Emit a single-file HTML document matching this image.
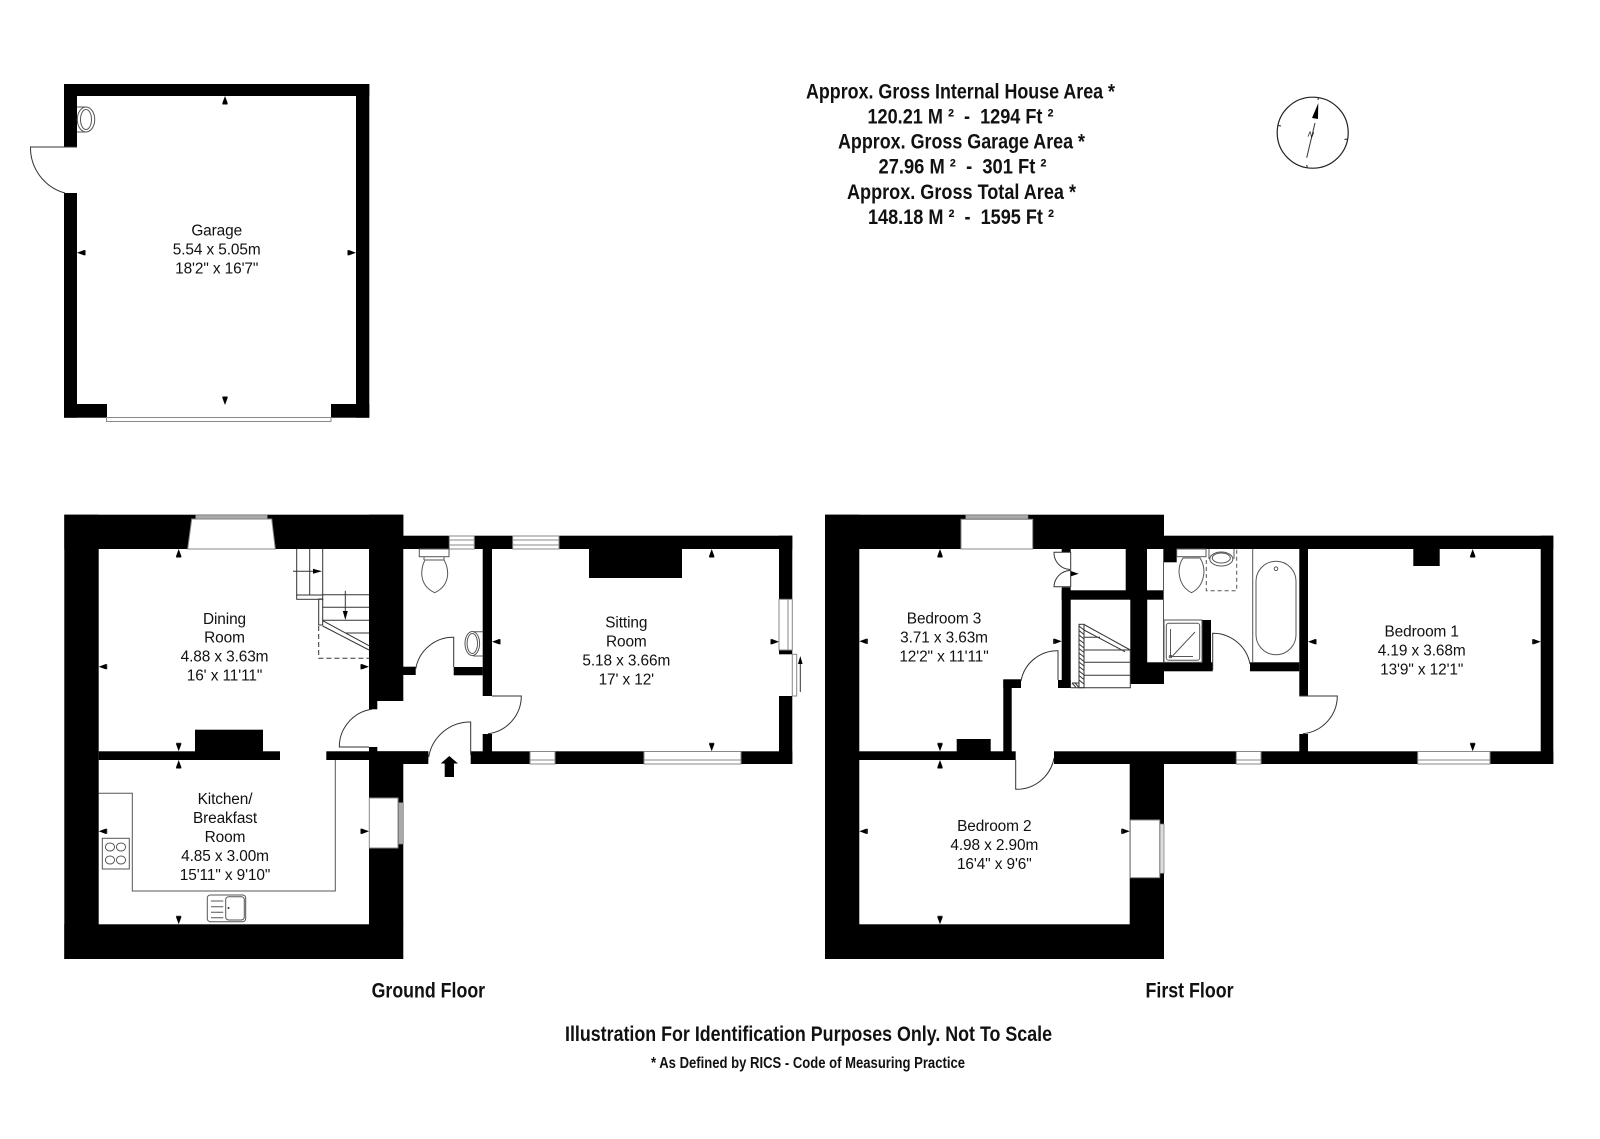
<!DOCTYPE html>
<html><head><meta charset="utf-8"><title>Floor plan</title>
<style>html,body{margin:0;padding:0;background:#fff}svg{display:block}
text{font-family:"Liberation Sans",sans-serif;fill:#111}
.r{font-size:15.4px;letter-spacing:-.1px;text-anchor:middle}
.b{font-weight:bold}
.l{fill:none;stroke:#333;stroke-width:1}
.g{fill:none;stroke:#555;stroke-width:1}
.w{fill:#fff;stroke:#888;stroke-width:1}
</style></head><body>
<svg width="1600" height="1139" viewBox="0 0 1600 1139" xmlns="http://www.w3.org/2000/svg">
<defs><g id="t"><polygon points="0,0 2.8,7.5 -2.8,7.5" fill="#000"/><line x1="-2.5" y1="8" x2="2.5" y2="8" stroke="#000" stroke-width="1"/></g></defs>
<rect width="1600" height="1139" fill="#fff"/>

<!-- GARAGE -->
<g fill="#000">
<rect x="64" y="84" width="305.3" height="12"/>
<rect x="64" y="84" width="13" height="63"/>
<rect x="64" y="193" width="13" height="224.7"/>
<rect x="356" y="84" width="13.3" height="333.7"/>
<rect x="64" y="404" width="43" height="13.7"/>
<rect x="331" y="404" width="38.3" height="13.7"/>
</g>
<rect x="106.5" y="417.5" width="224.5" height="4" class="w"/>
<path class="l" d="M77 147H30.5A47 47 0 0 0 65 193"/>
<path class="g" d="M77 107H87M77 132H87"/>
<ellipse cx="86" cy="119.5" rx="8.7" ry="12.5" class="g" fill="#fff"/>
<ellipse cx="86" cy="119.5" rx="5.5" ry="10" class="g"/>

<!-- GROUND FLOOR walls -->
<g fill="#000">
<rect x="64.3" y="514.7" width="34.4" height="444.3"/>
<rect x="64.3" y="514.7" width="339" height="34.3"/>
<rect x="369" y="514.7" width="34.3" height="186.3"/>
<rect x="369" y="700" width="8.3" height="9.3"/>
<rect x="64.3" y="924.3" width="339" height="34.7"/>
<rect x="369" y="747" width="8.3" height="14"/>
<rect x="369" y="760" width="34.3" height="165"/>
<rect x="98.7" y="751.3" width="181.3" height="8.7"/>
<rect x="195" y="729.7" width="68" height="22"/>
<rect x="326.3" y="751.3" width="102" height="8.7"/>
<rect x="369" y="751.3" width="59.3" height="12.7"/>
<rect x="403" y="535.7" width="46.3" height="13.3"/>
<rect x="474.3" y="535.7" width="38.4" height="13.3"/>
<rect x="559" y="535.7" width="233.3" height="13.3"/>
<rect x="403" y="666.7" width="12.7" height="8.3"/>
<rect x="453.7" y="667" width="29" height="8.3"/>
<rect x="482.7" y="549" width="9.3" height="147"/>
<rect x="482.7" y="734" width="9.3" height="30"/>
<rect x="470.7" y="751.3" width="59.3" height="12.7"/>
<rect x="555" y="751.3" width="89" height="12.7"/>
<rect x="741" y="751.3" width="51.3" height="12.7"/>
<rect x="779" y="535.7" width="13.3" height="63.6"/>
<rect x="779" y="650" width="13.3" height="4.3"/>
<rect x="779" y="696" width="13.3" height="68"/>
<rect x="589" y="549" width="93" height="29"/>
</g>
<polygon points="191.7,519 271.7,519 275.3,549 187.7,549" class="w"/>
<rect x="195.7" y="515" width="71.6" height="4" fill="#aaa" stroke="#777" stroke-width=".7"/>
<g class="w">
<rect x="449.3" y="536" width="25" height="13" class="w"/><rect x="512.7" y="536" width="46.3" height="13" class="w"/>
<rect x="530" y="751.5" width="25" height="12.5" class="w"/><rect x="644" y="751.5" width="97" height="12.5" class="w"/>
<rect x="779" y="599.3" width="13.3" height="50.7" class="w"/>
<rect x="369.3" y="798" width="28.7" height="50" class="w"/>
</g>
<path stroke="#888" fill="none" d="M449.3 540H474.3M449.3 545H474.3M512.7 540H559M512.7 545H559M530 760H555M644 760H741M788 599.3V650"/>
<rect x="398.7" y="802.7" width="4.6" height="41.3" fill="#aaa" stroke="#777" stroke-width=".7"/>
<rect x="792.3" y="654.3" width="4.4" height="41.7" class="w"/>
<path class="l" d="M800.3 692V662"/><polygon points="800.3,656 798,664 802.6,664" fill="#000"/>

<!-- ground doors -->
<path class="l" d="M369 747H339.3A38 38 0 0 1 372 709.3"/>
<path class="l" d="M453.7 667V637.3A38 38 0 0 0 415.7 669"/>
<path class="l" d="M492 696H521.3A38 38 0 0 1 488 733.7"/>
<path class="l" d="M470.7 755V722A42 42 0 0 0 428.7 757"/>
<polygon points="449.3,756 458,763.5 454,763.5 454,777 444.7,777 444.7,763.5 440.7,763.5" fill="#000"/>

<!-- stairs ground -->
<g class="l">
<path d="M296.7 549V595H322.7V549M309.7 549V595"/>
<rect x="296.7" y="595" width="26" height="4.3"/>
<rect x="318.7" y="599" width="4" height="26"/>
<path d="M322.7 594.7H369M322.7 607.3H369M322.7 620.3H369M345 633H369M322.7 620.7L369 645.7M322.7 626L369 650"/>
<path d="M293 571.3H316M345.3 590.7V612"/>
<path d="M318.7 626V658.3H369" stroke-dasharray="5 3"/>
</g>
<polygon points="322,571.3 313,568.8 313,573.8" fill="#000"/>
<polygon points="345.3,620 342.8,611 347.8,611" fill="#000"/>

<!-- WC ground -->
<rect x="419.3" y="549" width="29.7" height="7.7" class="g"/>
<path class="g" d="M424 557V560M444 557V560"/>
<path class="g" d="M425 560H444Q447.7 566 447.7 574Q447 587 434.7 592.7Q422.4 587 421.7 574Q421.7 566 425 560Z"/>
<path class="g" d="M473.3 631.7H482.7M473.3 656H482.7"/>
<ellipse cx="472.3" cy="643.5" rx="7.3" ry="12" class="g" fill="#fff"/>
<ellipse cx="472.3" cy="643.5" rx="5.2" ry="10" class="g"/>

<!-- kitchen -->
<path class="g" d="M335.3 760V891H132.3V793.3H98.7"/>
<rect x="102.3" y="838.3" width="27" height="30.7" class="g"/>
<g class="g"><ellipse cx="110" cy="847" rx="4.6" ry="4"/><ellipse cx="121" cy="847" rx="4.6" ry="4"/><ellipse cx="110" cy="860" rx="4.6" ry="4"/><ellipse cx="121" cy="860" rx="4.6" ry="4"/></g>
<rect x="207.3" y="895" width="38.4" height="26.7" rx="3" class="g"/>
<rect x="225.7" y="896.7" width="18.6" height="23.3" rx="3" class="g"/>
<path class="g" d="M211 901H223.3M211 906.7H223.3M211 912.3H223.3M211 917.7H223.3"/>
<circle cx="228.5" cy="908" r="1" fill="#333"/>

<!-- FIRST FLOOR walls -->
<g fill="#000">
<rect x="825" y="514.7" width="34.3" height="444.3"/>
<rect x="825" y="514.7" width="339" height="34.3"/>
<rect x="825" y="924.3" width="339" height="34.7"/>
<rect x="1129.7" y="760" width="34.3" height="165"/>
<rect x="859" y="751.3" width="156.7" height="8.7"/>
<rect x="956.7" y="739" width="34" height="13"/>
<rect x="1054" y="751.3" width="499.3" height="12.7"/>
<rect x="1003.3" y="679.3" width="17.7" height="8.7"/>
<rect x="1003.3" y="680" width="8.4" height="72"/>
<rect x="1164" y="535.7" width="389.3" height="13.3"/>
<rect x="1540.7" y="535.7" width="12.6" height="228.3"/>
<rect x="1061.7" y="549" width="9" height="3.3"/>
<rect x="1061.7" y="587.3" width="9" height="100.7"/>
<rect x="1058" y="680" width="12.7" height="8"/>
<rect x="1061.7" y="590.3" width="102" height="9.4"/>
<rect x="1125.7" y="549" width="21.3" height="42"/>
<rect x="1130.3" y="599" width="16.9" height="63.5"/>
<rect x="1130.3" y="662.3" width="33.7" height="21.7"/>
<rect x="1163.3" y="662.3" width="49.4" height="9"/>
<rect x="1163.3" y="549" width="13.4" height="13.3"/>
<rect x="1202" y="620" width="9" height="42.5"/>
<rect x="1250" y="662.3" width="49.3" height="9"/>
<rect x="1299.3" y="549" width="8.7" height="147"/>
<rect x="1299.3" y="734" width="8.7" height="18"/>
<rect x="1413.3" y="549" width="26.4" height="17"/>
</g>
<rect x="961" y="519.3" width="71.7" height="29.7" class="w"/>
<rect x="965.7" y="515" width="62.3" height="4" fill="#aaa" stroke="#777" stroke-width=".7"/>
<rect x="1236.3" y="751.5" width="24.7" height="12.5" class="w"/>
<rect x="1417.7" y="751.5" width="72.3" height="12.5" class="w"/>
<path stroke="#888" fill="none" d="M1236.3 760H1261M1417.7 760H1490"/>
<rect x="1130.3" y="820" width="29.4" height="57.7" class="w"/>
<rect x="1160" y="824" width="4" height="49.3" fill="#ddd" stroke="#777" stroke-width=".7"/>

<!-- first doors -->
<path class="l" d="M1058 680V650.7A37 37 0 0 0 1021 681"/>
<path class="l" d="M1015.7 760V789.3A38 38 0 0 0 1054 758"/>
<path class="l" d="M1212.7 670V633.3A37.7 37.7 0 0 1 1250 664"/>
<path class="l" d="M1299.3 696H1337.3A38 38 0 0 1 1303 733.7"/>
<path class="l" d="M1070.7 552.3H1054A16.7 16.7 0 0 0 1070 569.5M1070.7 586.7H1054A16.7 16.7 0 0 1 1070 570.5M1070.7 552V587"/>

<!-- stairs first -->
<g class="l">
<rect x="1079" y="624.3" width="5" height="63.4"/>
<path d="M1084 624.5L1130.3 650M1084 630L1125 651.7M1084 637.3H1100M1084 650H1130.3M1084 662.3H1130.3M1084 675.3H1130.3M1070.7 687.7H1130.3V650"/>
<path d="M1079 626L1084 630M1079 630.5L1084 634.5M1079 635L1084 639M1079 639.5L1084 643.5M1079 644L1084 648M1079 648.5L1084 652.5M1079 653L1084 657M1079 657.5L1084 661.5M1079 662L1084 666M1079 666.5L1084 670.5M1079 671L1084 675M1079 675.5L1084 679.5M1079 680L1084 684M1072 683L1076 687.5M1075 683L1079 687.5"/>
<path d="M1072 683H1079"/>
</g>

<!-- bathroom -->
<path class="g" d="M1163.5 549V662M1252.7 549V662"/>
<rect x="1256" y="561.3" width="40" height="93.4" rx="20" class="g"/>
<circle cx="1276" cy="568.7" r="1.8" class="g"/>
<rect x="1176.7" y="549" width="29.3" height="7.7" class="g"/>
<path class="g" d="M1183 558H1200Q1204 564 1204 572Q1203 587 1191.5 592.7Q1180 587 1179 572Q1179 564 1183 558Z"/>
<ellipse cx="1221.3" cy="559" rx="11.5" ry="7" class="g"/>
<ellipse cx="1221.3" cy="558" rx="9" ry="5" class="g"/>
<path class="g" d="M1209 549V559M1234 549V559"/>
<path class="g" d="M1206.3 560V590.7H1236.7V549" stroke-dasharray="4 3"/>
<rect x="1164" y="620" width="38" height="42.3" class="g"/>
<rect x="1166.3" y="623.3" width="33.4" height="37" rx="2.5" class="g"/>
<path class="g" d="M1170.5 629V656.5H1193M1172.5 656L1195 632"/>
<circle cx="1170.5" cy="656.5" r="1.3" class="g"/>

<!-- dimension ticks -->
<g>
<use href="#t" transform="translate(225,96)"/>
<use href="#t" transform="translate(77,252.7) rotate(-90)"/>
<use href="#t" transform="translate(356,252.7) rotate(90)"/>
<use href="#t" transform="translate(225,405) rotate(180)"/>
<use href="#t" transform="translate(178.7,549)"/>
<use href="#t" transform="translate(98.7,666.7) rotate(-90)"/>
<use href="#t" transform="translate(369,666.7) rotate(90)"/>
<use href="#t" transform="translate(178.7,751.3) rotate(180)"/>
<use href="#t" transform="translate(178.7,760)"/>
<use href="#t" transform="translate(98.7,831.3) rotate(-90)"/>
<use href="#t" transform="translate(369,831.3) rotate(90)"/>
<use href="#t" transform="translate(178.7,924.3) rotate(180)"/>
<use href="#t" transform="translate(492,641.7) rotate(-90)"/>
<use href="#t" transform="translate(779,641.7) rotate(90)"/>
<use href="#t" transform="translate(711.7,549)"/>
<use href="#t" transform="translate(711.7,751.3) rotate(180)"/>
<use href="#t" transform="translate(940,549)"/>
<use href="#t" transform="translate(859.3,641.3) rotate(-90)"/>
<use href="#t" transform="translate(1061.7,641.3) rotate(90)"/>
<use href="#t" transform="translate(940,751.3) rotate(180)"/>
<use href="#t" transform="translate(940,760)"/>
<use href="#t" transform="translate(859.3,831.3) rotate(-90)"/>
<use href="#t" transform="translate(1129.7,831.3) rotate(90)"/>
<use href="#t" transform="translate(940,924.3) rotate(180)"/>
<use href="#t" transform="translate(1472.7,549)"/>
<use href="#t" transform="translate(1308,641.7) rotate(-90)"/>
<use href="#t" transform="translate(1540.7,641.7) rotate(90)"/>
<use href="#t" transform="translate(1472.7,751.3) rotate(180)"/>
<polygon points="1078.7,573.7 1070.7,571 1070.7,576.4" fill="#000"/>
</g>

<!-- room labels -->
<text class="r" x="216.7" y="235.7">Garage</text>
<text class="r" x="216.7" y="254.7">5.54 x 5.05m</text>
<text class="r" x="216.7" y="273.5">18'2" x 16'7"</text>

<text class="r" x="224.5" y="624">Dining</text>
<text class="r" x="224.5" y="642.7">Room</text>
<text class="r" x="224.5" y="661.7">4.88 x 3.63m</text>
<text class="r" x="224.5" y="680.7">16' x 11'11"</text>

<text class="r" x="225" y="804">Kitchen/</text>
<text class="r" x="225" y="823">Breakfast</text>
<text class="r" x="225" y="842">Room</text>
<text class="r" x="225" y="861">4.85 x 3.00m</text>
<text class="r" x="225" y="880">15'11" x 9'10"</text>

<text class="r" x="626.3" y="627.7">Sitting</text>
<text class="r" x="626.3" y="646.6">Room</text>
<text class="r" x="626.3" y="665.5">5.18 x 3.66m</text>
<text class="r" x="626.3" y="684.4">17' x 12'</text>

<text class="r" x="944" y="623.7">Bedroom 3</text>
<text class="r" x="944" y="642.6">3.71 x 3.63m</text>
<text class="r" x="944" y="661.5">12'2" x 11'11"</text>

<text class="r" x="994.3" y="831">Bedroom 2</text>
<text class="r" x="994.3" y="850">4.98 x 2.90m</text>
<text class="r" x="994.3" y="869">16'4" x 9'6"</text>

<text class="r" x="1421.7" y="636.7">Bedroom 1</text>
<text class="r" x="1421.7" y="655.6">4.19 x 3.68m</text>
<text class="r" x="1421.7" y="674.5">13'9" x 12'1"</text>

<!-- headings -->
<g class="b" font-size="21" font-weight="bold">
<text x="806" y="98.5" textLength="309" lengthAdjust="spacingAndGlyphs">Approx. Gross Internal House Area *</text>
<text x="867.5" y="123.5" textLength="186" lengthAdjust="spacingAndGlyphs">120.21 M ²&#160;&#160;-&#160;&#160;1294 Ft ²</text>
<text x="838" y="148.5" textLength="247" lengthAdjust="spacingAndGlyphs">Approx. Gross Garage Area *</text>
<text x="878.5" y="173.5" textLength="168" lengthAdjust="spacingAndGlyphs">27.96 M ²&#160;&#160;-&#160;&#160;301 Ft ²</text>
<text x="847" y="199" textLength="229" lengthAdjust="spacingAndGlyphs">Approx. Gross Total Area *</text>
<text x="868" y="224" textLength="186" lengthAdjust="spacingAndGlyphs">148.18 M ²&#160;&#160;-&#160;&#160;1595 Ft ²</text>
<text x="371.6" y="997.7" textLength="113.5" lengthAdjust="spacingAndGlyphs">Ground Floor</text>
<text x="1145.5" y="997.7" textLength="88" lengthAdjust="spacingAndGlyphs">First Floor</text>
<text x="565" y="1041" textLength="487" lengthAdjust="spacingAndGlyphs">Illustration For Identification Purposes Only. Not To Scale</text>
<text x="651" y="1068" font-size="15.5" textLength="314" lengthAdjust="spacingAndGlyphs">* As Defined by RICS - Code of Measuring Practice</text>
</g>

<!-- compass -->
<circle cx="1312.7" cy="132.7" r="35.5" fill="none" stroke="#222" stroke-width="1.2"/>
<path class="l" d="M1306.7 157.7L1315 123"/>
<polygon points="1318.3,103 1318,119 1312,118" fill="#000"/>
<text x="1308" y="137" font-size="8" font-style="italic" fill="#444" transform="rotate(12 1310 134)">N</text>
<path stroke="#222" fill="none" d="M1318.5 97.5L1318 100M1306.7 165L1307.3 167.5M1278.5 125.5L1281 126M1344.5 139.5L1347.5 139"/>
</svg>
</body></html>
